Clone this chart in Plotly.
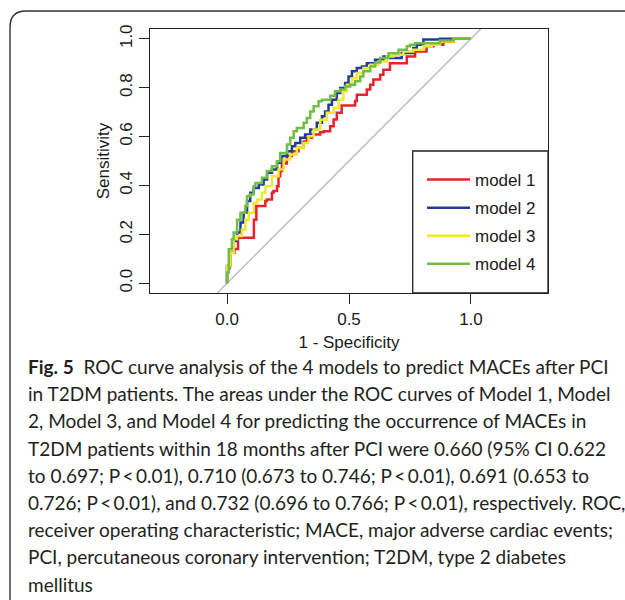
import plotly.graph_objects as go

# ---------------- data ----------------
m1_fpr = [0.0, 0.01, 0.03, 0.045, 0.06, 0.11, 0.11, 0.12, 0.136, 0.157, 0.163, 0.184, 0.19, 0.205, 0.211, 0.218, 0.225, 0.245, 0.266, 0.293, 0.314, 0.327, 0.348, 0.382, 0.396, 0.423, 0.437, 0.45, 0.47, 0.477, 0.525, 0.532, 0.553, 0.573, 0.587, 0.6, 0.628, 0.641, 0.668, 0.696, 0.737, 0.771, 0.784, 0.818, 0.846, 0.887, 0.928, 0.941, 1.0]
m1_tpr = [0.0, 0.06, 0.125, 0.14, 0.186, 0.186, 0.25, 0.26, 0.316, 0.316, 0.336, 0.343, 0.37, 0.377, 0.397, 0.438, 0.459, 0.49, 0.52, 0.54, 0.554, 0.58, 0.595, 0.608, 0.618, 0.622, 0.642, 0.67, 0.697, 0.727, 0.727, 0.745, 0.771, 0.771, 0.792, 0.812, 0.833, 0.853, 0.873, 0.9, 0.9, 0.928, 0.948, 0.948, 0.969, 0.976, 0.989, 1.0, 1.0]

m2_fpr = [0.0, 0.014, 0.027, 0.041, 0.055, 0.068, 0.082, 0.095, 0.109, 0.13, 0.15, 0.164, 0.184, 0.205, 0.225, 0.246, 0.266, 0.28, 0.3, 0.32, 0.341, 0.368, 0.389, 0.402, 0.416, 0.43, 0.45, 0.464, 0.484, 0.498, 0.512, 0.532, 0.553, 0.573, 0.607, 0.641, 0.668, 0.716, 0.744, 0.764, 0.778, 0.805, 0.873, 1.0]
m2_tpr = [0.0, 0.07, 0.125, 0.173, 0.207, 0.248, 0.288, 0.336, 0.37, 0.39, 0.404, 0.424, 0.452, 0.465, 0.493, 0.52, 0.54, 0.56, 0.574, 0.595, 0.608, 0.629, 0.656, 0.683, 0.703, 0.73, 0.751, 0.778, 0.799, 0.819, 0.846, 0.867, 0.88, 0.887, 0.9, 0.914, 0.928, 0.921, 0.942, 0.942, 0.962, 0.976, 0.997, 1.0]

m3_fpr = [0.0, 0.014, 0.027, 0.041, 0.061, 0.075, 0.089, 0.109, 0.123, 0.143, 0.157, 0.184, 0.211, 0.232, 0.259, 0.286, 0.314, 0.334, 0.355, 0.382, 0.409, 0.437, 0.457, 0.477, 0.491, 0.512, 0.532, 0.559, 0.587, 0.621, 0.655, 0.682, 0.723, 0.764, 0.805, 0.839, 0.873, 0.928, 0.941, 1.0]
m3_tpr = [0.0, 0.07, 0.125, 0.18, 0.193, 0.22, 0.261, 0.288, 0.329, 0.343, 0.37, 0.397, 0.438, 0.465, 0.506, 0.527, 0.554, 0.574, 0.601, 0.629, 0.669, 0.697, 0.717, 0.751, 0.785, 0.812, 0.839, 0.86, 0.88, 0.894, 0.907, 0.928, 0.935, 0.948, 0.955, 0.969, 0.976, 0.989, 1.0, 1.0]

m4_fpr = [0.0, 0.007, 0.02, 0.027, 0.041, 0.055, 0.075, 0.082, 0.093, 0.109, 0.116, 0.143, 0.164, 0.184, 0.205, 0.218, 0.246, 0.259, 0.273, 0.286, 0.314, 0.327, 0.341, 0.355, 0.375, 0.389, 0.423, 0.443, 0.464, 0.484, 0.505, 0.525, 0.546, 0.559, 0.587, 0.607, 0.628, 0.662, 0.703, 0.737, 0.75, 0.771, 0.873, 0.928, 1.0]
m4_tpr = [0.0, 0.044, 0.139, 0.18, 0.207, 0.26, 0.288, 0.316, 0.356, 0.363, 0.397, 0.41, 0.431, 0.459, 0.479, 0.499, 0.533, 0.567, 0.595, 0.622, 0.635, 0.656, 0.676, 0.703, 0.724, 0.744, 0.751, 0.767, 0.785, 0.792, 0.805, 0.812, 0.826, 0.846, 0.867, 0.887, 0.903, 0.921, 0.941, 0.955, 0.969, 0.976, 0.982, 0.993, 1.0]

series_names = ["model 1", "model 2", "model 3", "model 4"]
series_colors = ["#e8232b", "#1f3c98", "#f2e833", "#72bd45"]

x_ticks = [0.0, 0.5, 1.0]
x_tick_labels = ["0.0", "0.5", "1.0"]
y_ticks = [0.0, 0.2, 0.4, 0.6, 0.8, 1.0]
y_tick_labels = ["0.0", "0.2", "0.4", "0.6", "0.8", "1.0"]

caption_lines = [
    "<b>Fig. 5</b>  ROC curve analysis of the 4 models to predict MACEs after PCI",
    "in T2DM patients. The areas under the ROC curves of Model 1, Model",
    "2, Model 3, and Model 4 for predicting the occurrence of MACEs in",
    "T2DM patients within 18 months after PCI were 0.660 (95% CI 0.622",
    "to 0.697; P&#8201;&lt;&#8201;0.01), 0.710 (0.673 to 0.746; P&#8201;&lt;&#8201;0.01), 0.691 (0.653 to",
    "0.726; P&#8201;&lt;&#8201;0.01), and 0.732 (0.696 to 0.766; P&#8201;&lt;&#8201;0.01), respectively. ROC,",
    "receiver operating characteristic; MACE, major adverse cardiac events;",
    "PCI, percutaneous coronary intervention; T2DM, type 2 diabetes",
    "mellitus",
]

# ---------------- layout geometry ----------------
W, H = 625, 600
ML, MR, MT, MB = 150, 77, 29, 307
PW, PH = W - ML - MR, H - MT - MB


def pxx(px):
    return (px - ML) / PW


def pxy(py):
    return (H - MB - py) / PH


AX_FONT = dict(family="Liberation Sans, Arial, sans-serif", size=17, color="#1a1a1a")

fig = go.Figure()

curves = [(m1_fpr, m1_tpr), (m2_fpr, m2_tpr), (m3_fpr, m3_tpr), (m4_fpr, m4_tpr)]
for i, ((fx, ty), name, col) in enumerate(zip(curves, series_names, series_colors)):
    fig.add_trace(go.Scatter(
        x=fx, y=ty, mode="lines", name=name, legendgroup=f"g{i}",
        line=dict(color=col, width=2.5, shape="vh"),
        hoverinfo="skip",
    ))

# diagonal reference line
fig.add_shape(type="line", xref="x", yref="y", x0=-0.04, y0=-0.04, x1=1.04, y1=1.04,
              line=dict(color="#b4b4b4", width=1.2), layer="below")

# legend frame
fig.add_shape(type="rect", xref="paper", yref="paper",
              x0=pxx(412.7), x1=1.0, y0=0.0, y1=pxy(151),
              line=dict(color="#222222", width=1.3))

# outer rounded figure border (open at right / bottom)
r = 16
lx, ty_, rx, by = 10, 11, 640, 620
path = (f"M {pxx(lx)},{pxy(by)} L {pxx(lx)},{pxy(ty_ + r)} "
        f"Q {pxx(lx)},{pxy(ty_)} {pxx(lx + r)},{pxy(ty_)} L {pxx(rx)},{pxy(ty_)}")
fig.add_shape(type="path", xref="paper", yref="paper", path=path,
              line=dict(color="#333333", width=1.4))

# caption
cap_y = [366.5, 393.7, 420.9, 448.1, 475.3, 502.5, 529.7, 556.9, 584.1]
for line, yy in zip(caption_lines, cap_y):
    fig.add_annotation(text=line, xref="paper", yref="paper", x=pxx(26), y=pxy(yy),
                       xanchor="left", yanchor="middle", showarrow=False,
                       font=dict(family="Lato, Noto Sans, sans-serif", size=19, color="#231f20"))

fig.update_xaxes(
    range=[-0.316, 1.316], tickmode="array", tickvals=x_ticks, ticktext=x_tick_labels,
    showline=True, mirror=True, linecolor="#222222", linewidth=1.3,
    ticks="outside", ticklen=10, tickwidth=1.3, tickcolor="#222222",
    showgrid=False, zeroline=False, tickfont=AX_FONT, ticklabelstandoff=0,
    title=dict(text="1 - Specificity", font=AX_FONT, standoff=8),
)
fig.update_yaxes(
    range=[-0.04, 1.04], tickmode="array", tickvals=y_ticks, ticktext=y_tick_labels,
    showline=True, mirror=True, linecolor="#222222", linewidth=1.3,
    ticks="outside", ticklen=10, tickwidth=1.3, tickcolor="#222222",
    showgrid=False, zeroline=False, tickfont=AX_FONT, tickangle=-90, ticklabelstandoff=0,
    title=dict(text="Sensitivity", font=AX_FONT, standoff=3),
)

fig.update_layout(
    width=W, height=H, autosize=False,
    margin=dict(l=ML, r=MR, t=MT, b=MB, pad=0),
    paper_bgcolor="white", plot_bgcolor="white",
    showlegend=True,
    legend=dict(x=pxx(422), xanchor="left", y=pxy(162), yanchor="top",
                bgcolor="rgba(0,0,0,0)", borderwidth=0, tracegroupgap=3,
                itemwidth=43, font=AX_FONT, itemclick=False, itemdoubleclick=False),
)

fig.write_html("out.html")
